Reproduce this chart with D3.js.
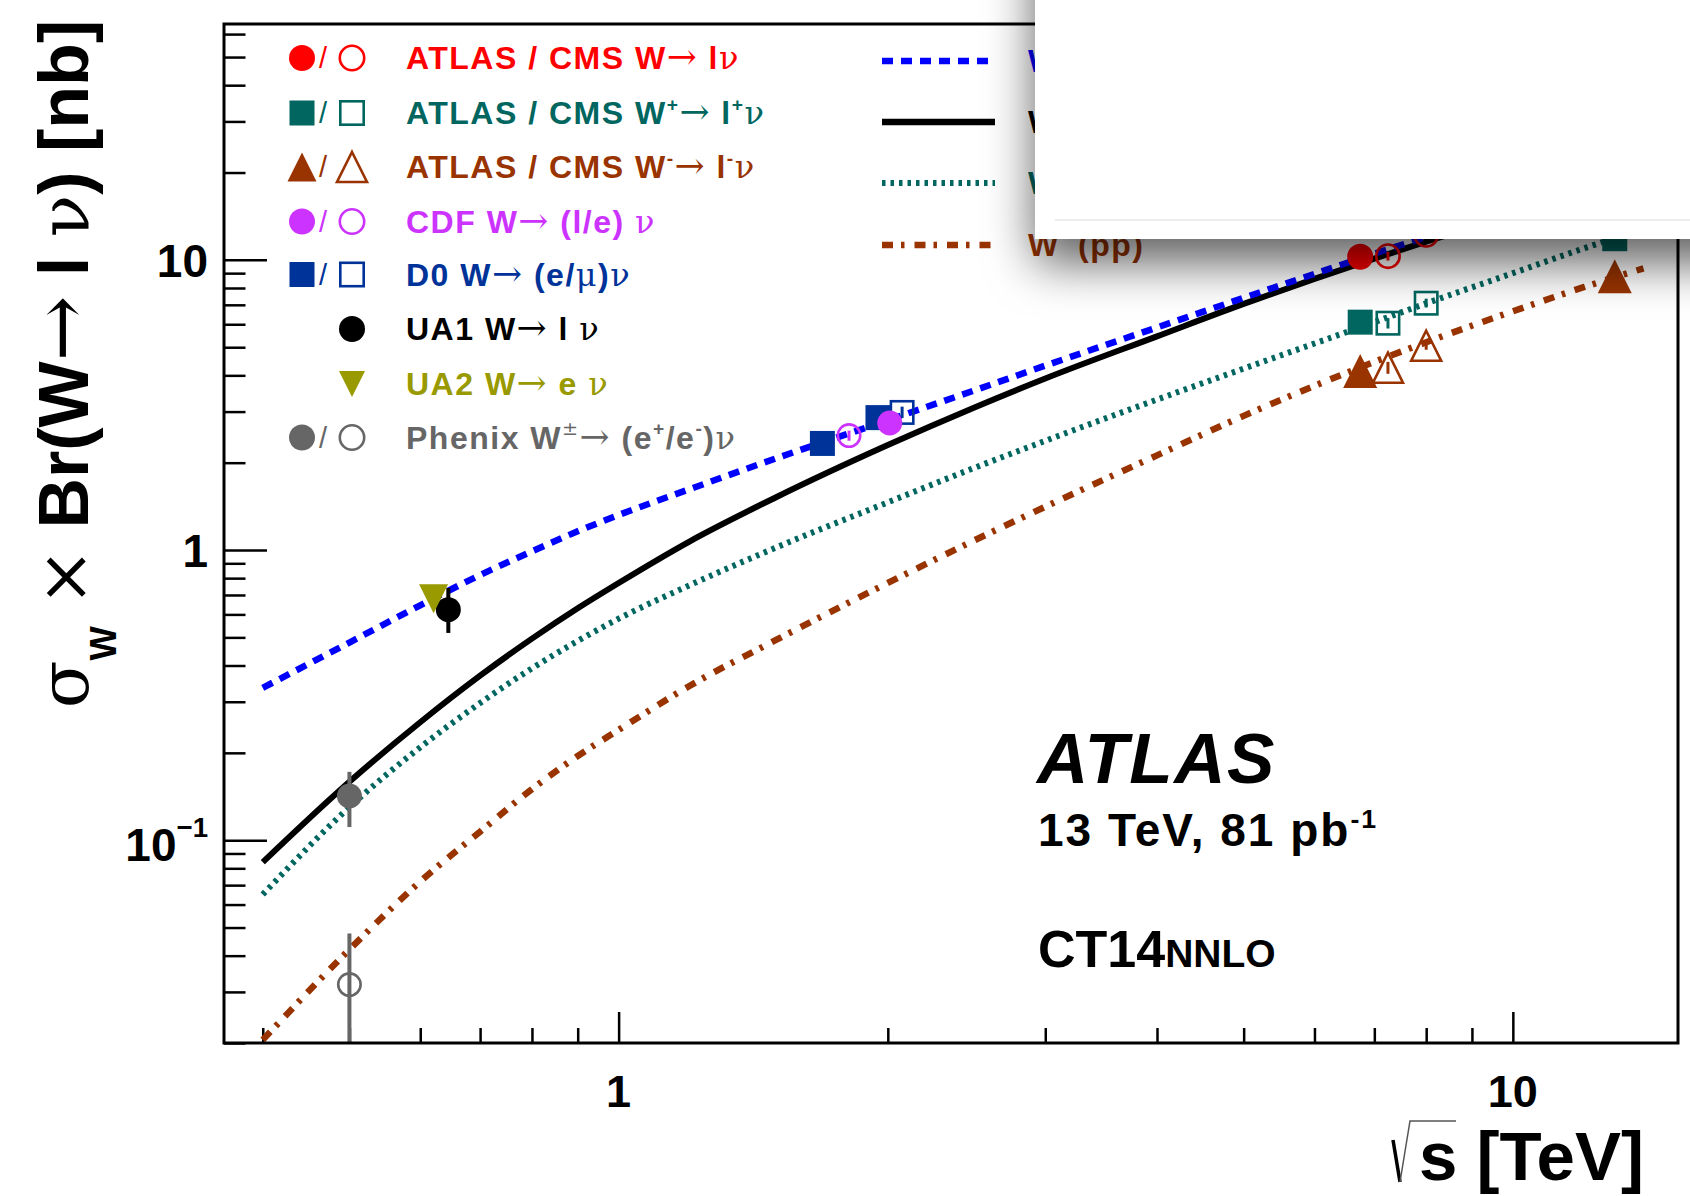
<!DOCTYPE html>
<html>
<head>
<meta charset="utf-8">
<script src="https://cdnjs.cloudflare.com/ajax/libs/d3/7.8.5/d3.min.js"></script>
<style>
  body { margin: 0; background: #fff; }
  svg { display: block; font-family: "Liberation Sans", Arial, Helvetica, sans-serif; font-weight: bold; }
  .sym { font-family: "DejaVu Serif", "Liberation Serif", serif; font-weight: normal; }
</style>
</head>
<body>
<div class="graph-container"></div>
<script>
// CT14 NNLO predictions, sqrt(s) [TeV] vs sigma x BR [nb]
const theoryX   = [0.4, 0.5, 0.6, 0.7, 0.8, 0.9, 1, 1.2, 1.5, 2, 2.5, 3, 4, 5, 6, 7, 8, 10, 12, 14];
const sigWppbar = [0.335, 0.48, 0.645, 0.82, 0.99, 1.16, 1.32, 1.62, 2.07, 2.8, 3.55, 4.32, 5.85, 7.4, 8.95, 10.5, 12.0, 15.0, 18.0, 20.9];
const sigWpp    = [0.084, 0.159, 0.255, 0.369, 0.495, 0.63, 0.77, 1.07, 1.52, 2.3, 3.1, 3.9, 5.45, 7.05, 8.6, 10.1, 11.55, 14.25, 16.9, 19.5];
const sigWplus  = [0.065, 0.13, 0.209, 0.297, 0.391, 0.486, 0.58, 0.756, 1.02, 1.46, 1.92, 2.38, 3.3, 4.22, 5.15, 6.1, 7.08, 9.0, 10.95, 12.8];
const sigWminus = [0.0205, 0.042, 0.072, 0.107, 0.15, 0.195, 0.24, 0.34, 0.49, 0.77, 1.08, 1.41, 2.12, 2.9, 3.68, 4.45, 5.2, 6.65, 8.05, 9.35];

// measurements (x shown slightly displaced as in the figure)
const atlasCmsW = [
  {x: 6.75, y: 10.25, lo: 9.95, hi: 10.55, open: false},
  {x: 7.25, y: 10.3, lo: 9.95, hi: 10.65, open: true},
  {x: 8.0, y: 12.2, lo: 11.85, hi: 12.55, open: true},
  {x: 13.0, y: 20.6, lo: 20.0, hi: 21.2, open: false}];
const atlasCmsWplus = [
  {x: 6.75, y: 6.1, lo: 5.9, hi: 6.3, open: false},
  {x: 7.25, y: 6.05, lo: 5.8, hi: 6.3, open: true},
  {x: 8.0, y: 7.09, lo: 6.85, hi: 7.35, open: true},
  {x: 13.0, y: 11.83, lo: 11.4, hi: 12.2, open: false}];
const atlasCmsWminus = [
  {x: 6.75, y: 4.14, lo: 4.0, hi: 4.3, open: false},
  {x: 7.25, y: 4.25, lo: 4.05, hi: 4.45, open: true},
  {x: 8.0, y: 5.06, lo: 4.9, hi: 5.25, open: true},
  {x: 13.0, y: 8.79, lo: 8.5, hi: 9.1, open: false}];
const cdfW = [
  {x: 1.81, y: 2.48, lo: 2.38, hi: 2.58, open: true},
  {x: 2.01, y: 2.74, lo: 2.65, hi: 2.84, open: false}];
const d0W = [
  {x: 1.69, y: 2.33, lo: 2.25, hi: 2.41, open: false},
  {x: 1.95, y: 2.86, lo: 2.76, hi: 2.96, open: false},
  {x: 2.075, y: 2.98, lo: 2.85, hi: 3.12, open: true}];
const ua1W = [{x: 0.645, y: 0.623, lo: 0.518, hi: 0.74, open: false}];
const ua2W = [{x: 0.621, y: 0.68, lo: 0.65, hi: 0.71, open: false}];
const phenixW = [
  {x: 0.5, y: 0.142, lo: 0.111, hi: 0.172, open: false},
  {x: 0.5, y: 0.0318, lo: 0.012, hi: 0.0477, open: true}];

const xMajor = [1, 10];
const xMinor = [0.4, 0.5, 0.6, 0.7, 0.8, 0.9, 2, 3, 4, 5, 6, 7, 8, 9];
const yMajor = [0.1, 1, 10];
const yMinor = [0.02, 0.03, 0.04, 0.05, 0.06, 0.07, 0.08, 0.09,
                0.2, 0.3, 0.4, 0.5, 0.6, 0.7, 0.8, 0.9,
                2, 3, 4, 5, 6, 7, 8, 9, 20, 30, 40, 50, 60];

const cRed = "#ff0000", cTeal = "#00665f", cBrown = "#993300", cMag = "#cc33ff",
      cD0 = "#003399", cOlive = "#999900", cGray = "#666666", cBlue = "#0000ff";

const width = 1690, height = 1196;
const svg = d3.select(".graph-container").append("svg")
    .attr("width", width).attr("height", height);
svg.append("rect").attr("width", width).attr("height", height).attr("fill", "#fff");

const x = d3.scaleLog().domain([0.362, 15.3]).range([224, 1678]);
const y = d3.scaleLog().domain([0.02, 65]).range([1043, 24]);

const defs = svg.append("defs");
defs.append("clipPath").attr("id", "plotclip").append("rect")
    .attr("x", 224).attr("y", 24).attr("width", 1454).attr("height", 1019);
const shadow = defs.append("filter").attr("id", "shadow")
    .attr("x", "-30%").attr("y", "-30%").attr("width", "160%").attr("height", "200%");
shadow.append("feDropShadow").attr("dx", 0).attr("dy", 24).attr("stdDeviation", 24)
    .attr("flood-color", "#000").attr("flood-opacity", 0.62);

// rich text helper: parts are strings or [text, flags] with s=symbol, ^=sup, _=sub
function richText(t, parts, size, supScale = 0.6, supRise = 0.42, subDrop = 0.4) {
    let shift = 0;
    parts.forEach(p => {
        const [txt, fl] = typeof p === "string" ? [p, ""] : p;
        let target = 0, fs = size;
        if (fl.includes("^")) { target = -size * supRise; fs = size * supScale; }
        if (fl.includes("_")) { target = size * subDrop; fs = size * supScale; }
        if (txt === "\u2192") fs = size * 1.12;
        const ts = t.append("tspan").text(txt).attr("font-size", fs);
        if (target - shift !== 0) ts.attr("dy", target - shift);
        if (fl.includes("s")) ts.attr("class", "sym");
        shift = target;
    });
}

// axes ticks (inside the frame)
function tickAxis(axis, vals, size, tx, ty) {
    const g = svg.append("g").attr("transform", `translate(${tx},${ty})`)
        .call(axis.tickValues(vals).tickSize(size).tickFormat(""));
    g.select(".domain").remove();
    g.selectAll("line").attr("stroke", "#000").attr("stroke-width", 2.5);
}
tickAxis(d3.axisLeft(y), yMinor, -21.5, 224, 0);
tickAxis(d3.axisLeft(y), yMajor, -43, 224, 0);
tickAxis(d3.axisBottom(x), xMinor, -15, 0, 1043);
tickAxis(d3.axisBottom(x), xMajor, -31, 0, 1043);

// tick labels
xMajor.forEach(v => {
    svg.append("text").attr("x", x(v)).attr("y", 1107).attr("text-anchor", "middle")
        .attr("font-size", 45).text(v);
});
[[10, ["10"], 17], [1, ["1"], 17], [0.1, ["10", ["\u22121", "^"]], 21]].forEach(([v, parts, off]) => {
    const t = svg.append("text").attr("x", 208).attr("y", y(v) + off)
        .attr("text-anchor", "end").attr("font-size", 46);
    richText(t, parts, 46, 0.6, 0.52);
});

// theory curves
const line = d3.line().x(d => x(d[0])).y(d => y(d[1])).curve(d3.curveMonotoneX);
const curves = [
    {vals: sigWminus, color: cBrown, w: 6.5, dash: "11,8,3.5,10"},
    {vals: sigWplus, color: cTeal, w: 6, dash: "3.5,5"},
    {vals: sigWpp, color: "#000", w: 6, dash: null},
    {vals: sigWppbar, color: cBlue, w: 6.5, dash: "11,8"}];
const plot = svg.append("g").attr("clip-path", "url(#plotclip)");
curves.forEach(c => {
    plot.append("path").datum(theoryX.map((v, i) => [v, c.vals[i]]))
        .attr("d", line).attr("fill", "none").attr("stroke", c.color)
        .attr("stroke-width", c.w).attr("stroke-dasharray", c.dash);
});

// markers
function marker(g, shape, cx, cy, color, open, size) {
    const sw = 2.6;
    let m;
    if (shape === "circle") {
        m = g.append("circle").attr("cx", cx).attr("cy", cy).attr("r", open ? size / 2 - sw / 2 : size / 2);
    } else if (shape === "square") {
        const s = open ? size - sw : size;
        m = g.append("rect").attr("x", cx - s / 2).attr("y", cy - s / 2).attr("width", s).attr("height", s);
    } else {
        const w = size / 2, h = size / 2, d = shape === "down" ? -1 : 1;
        m = g.append("path").attr("d",
            `M${cx},${cy - d * h}L${cx + w},${cy + d * h}L${cx - w},${cy + d * h}Z`);
    }
    if (open) m.attr("fill", "none").attr("stroke", color).attr("stroke-width", sw);
    else m.attr("fill", color);
}

const datasets = [
    {data: phenixW, shape: "circle", color: cGray, size: 25, bar: 4},
    {data: ua1W, shape: "circle", color: "#000", size: 25, bar: 4},
    {data: ua2W, shape: "down", color: cOlive, size: 29, bar: 3},
    {data: d0W, shape: "square", color: cD0, size: 25, bar: 3},
    {data: cdfW, shape: "circle", color: cMag, size: 25, bar: 3},
    {data: atlasCmsWminus, shape: "triangle", color: cBrown, size: 34, bar: 3},
    {data: atlasCmsWplus, shape: "square", color: cTeal, size: 25, bar: 3},
    {data: atlasCmsW, shape: "circle", color: cRed, size: 26, bar: 3}];
datasets.forEach(ds => {
    ds.data.forEach(d => {
        plot.append("line").attr("x1", x(d.x)).attr("x2", x(d.x))
            .attr("y1", y(d.lo)).attr("y2", y(d.hi))
            .attr("stroke", ds.color).attr("stroke-width", ds.bar);
        const sz = (ds.shape === "triangle" && d.open) ? 30 : ds.size;
        marker(plot, ds.shape, x(d.x), y(d.y), ds.color, d.open, sz);
    });
});

// frame
svg.append("rect").attr("x", 224).attr("y", 24).attr("width", 1454).attr("height", 1019)
    .attr("fill", "none").attr("stroke", "#000").attr("stroke-width", 3);

// left legend
const legRows = [58, 113, 167, 221.5, 274.5, 329, 384, 437.5];
const legEntries = [
    {shape: "circle", color: cRed, both: true, size: 26,
     parts: ["ATLAS / CMS W", ["\u2192", "s"], " l", ["\u03bd", "s"]]},
    {shape: "square", color: cTeal, both: true, size: 25,
     parts: ["ATLAS / CMS W", ["+", "^"], ["\u2192", "s"], " l", ["+", "^"], ["\u03bd", "s"]]},
    {shape: "triangle", color: cBrown, both: true, size: 29,
     parts: ["ATLAS / CMS W", ["-", "^"], ["\u2192", "s"], " l", ["-", "^"], ["\u03bd", "s"]]},
    {shape: "circle", color: cMag, both: true, size: 26,
     parts: ["CDF W", ["\u2192", "s"], " (l/e) ", ["\u03bd", "s"]]},
    {shape: "square", color: cD0, both: true, size: 25,
     parts: ["D0 W", ["\u2192", "s"], " (e/", ["\u03bc", "s"], ")", ["\u03bd", "s"]]},
    {shape: "circle", color: "#000", both: false, size: 26,
     parts: ["UA1 W", ["\u2192", "s"], " l ", ["\u03bd", "s"]]},
    {shape: "down", color: cOlive, both: false, size: 26,
     parts: ["UA2 W", ["\u2192", "s"], " e ", ["\u03bd", "s"]]},
    {shape: "circle", color: cGray, both: true, size: 26,
     parts: ["Phenix W", ["\u00b1", "s^"], ["\u2192", "s"], " (e", ["+", "^"], "/e", ["-", "^"], ")", ["\u03bd", "s"]]}];
const leg = svg.append("g");
legEntries.forEach((e, i) => {
    const cy = legRows[i];
    if (e.both) {
        marker(leg, e.shape, 302, cy, e.color, false, e.size);
        leg.append("text").attr("x", 323).attr("y", cy + 10).attr("text-anchor", "middle")
            .attr("font-size", 29).attr("font-weight", "normal").attr("fill", e.color).text("/");
        marker(leg, e.shape, 352, cy, e.color, true, e.size + 1);
    } else {
        marker(leg, e.shape, 352, cy, e.color, false, e.size);
    }
    const t = leg.append("text").attr("x", 406).attr("y", cy + 11)
        .attr("fill", e.color).attr("letter-spacing", 1.5);
    richText(t, e.parts, 32);
});

// right legend (theory)
const rightRows = [61, 122, 183, 245];
const rightEntries = [
    {color: cBlue, w: 6.5, dash: "11,8", parts: ["W (p", "p\u0304)"]},
    {color: "#000", w: 6.5, dash: null, parts: ["W (pp)"]},
    {color: cTeal, w: 6, dash: "3.5,5", parts: ["W", ["+", "^"], " (pp)"]},
    {color: cBrown, w: 6.5, dash: "11,8,3.5,10", parts: ["W", ["-", "^"], " (pp)"]}];
rightEntries.forEach((e, i) => {
    leg.append("line").attr("x1", 882).attr("x2", 995).attr("y1", rightRows[i]).attr("y2", rightRows[i])
        .attr("stroke", e.color).attr("stroke-width", e.w).attr("stroke-dasharray", e.dash);
    const t = leg.append("text").attr("x", 1028).attr("y", rightRows[i] + 11)
        .attr("fill", e.color).attr("letter-spacing", 1.5);
    richText(t, e.parts, 32);
});

// ATLAS label block
svg.append("text").attr("x", 1037).attr("y", 783).attr("font-size", 71)
    .attr("font-style", "italic").attr("letter-spacing", 1.5).text("ATLAS");
const lumi = svg.append("text").attr("x", 1038).attr("y", 845.5).attr("letter-spacing", 2);
richText(lumi, ["13 TeV, 81 pb", ["-1", "^"]], 46, 0.58, 0.38);
const pdf = svg.append("text").attr("x", 1038).attr("y", 967);
pdf.append("tspan").attr("font-size", 52).text("CT14");
pdf.append("tspan").attr("font-size", 39).text("NNLO");

// axis titles
const yt = svg.append("text").attr("transform", "translate(88,364) rotate(-90)")
    .attr("text-anchor", "middle");
richText(yt, [["\u03c3", "s"], ["W", "_"], " ", ["\u00d7", "s"], " Br(W", ["\u2192", "s"], " l ", ["\u03bd", "s"], ") [nb]"], 70, 0.52, 0.42, 0.4);

svg.append("text").attr("x", 1419).attr("y", 1180).attr("font-size", 69).text("s [TeV]");
svg.append("path").attr("d", "M1393,1140L1400,1182").attr("stroke", "#000").attr("stroke-width", 3.5).attr("fill", "none");
svg.append("path").attr("d", "M1400,1182L1410,1121L1456,1121").attr("stroke", "#555").attr("stroke-width", 1.5).attr("fill", "none");

// overlapping white panel with drop shadow
svg.append("rect").attr("x", 1035).attr("y", -80).attr("width", 720).attr("height", 319)
    .attr("fill", "#fff").attr("filter", "url(#shadow)");
svg.append("line").attr("x1", 1055).attr("x2", 1690).attr("y1", 220).attr("y2", 220)
    .attr("stroke", "#ececec").attr("stroke-width", 2);
</script>
</body>
</html>
